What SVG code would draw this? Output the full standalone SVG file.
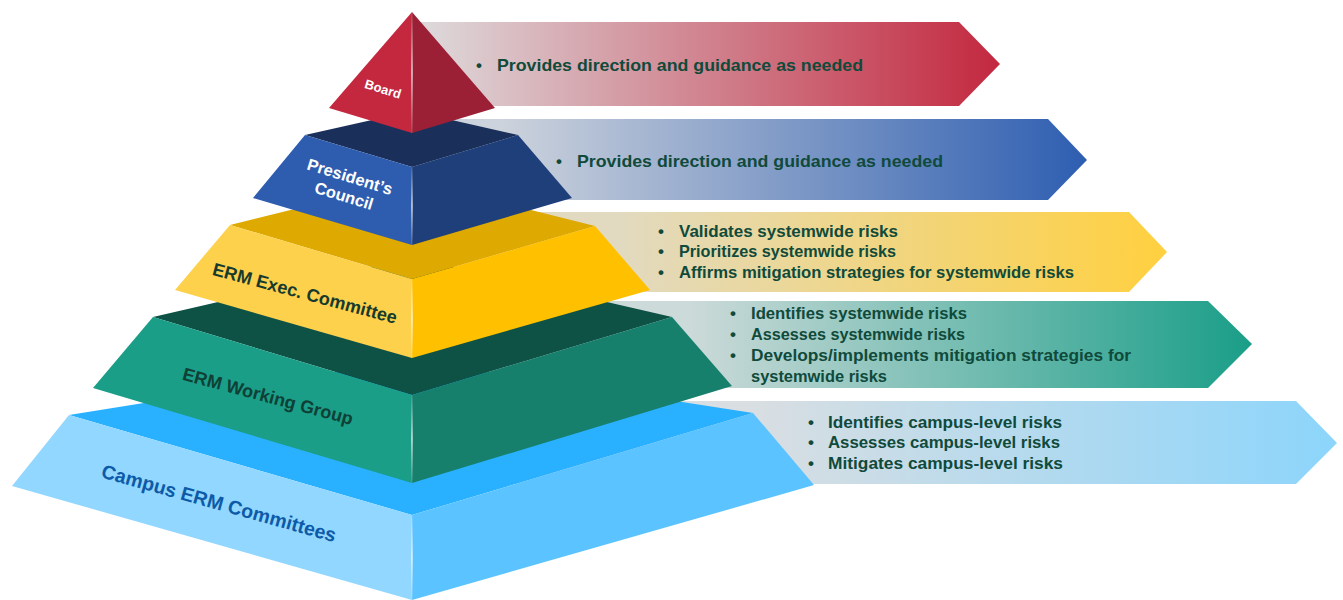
<svg xmlns="http://www.w3.org/2000/svg" width="1343" height="600" viewBox="0 0 1343 600">
<style>
.t{font-family:"Liberation Sans",Arial,sans-serif;font-weight:bold;font-size:17px;fill:#0F4A3B}
.lbl{font-family:"Liberation Sans",Arial,sans-serif;font-weight:bold;text-anchor:middle}
</style>
<defs>
<linearGradient id="gRed" gradientUnits="userSpaceOnUse" x1="430" y1="0" x2="1000" y2="0"><stop offset="0" stop-color="#DDD7D9"/><stop offset="1" stop-color="#C3283F"/></linearGradient>
<linearGradient id="gBlue" gradientUnits="userSpaceOnUse" x1="500" y1="0" x2="1087" y2="0"><stop offset="0" stop-color="#CDD3DC"/><stop offset="1" stop-color="#2E5EB1"/></linearGradient>
<linearGradient id="gYel" gradientUnits="userSpaceOnUse" x1="620" y1="0" x2="1167" y2="0"><stop offset="0" stop-color="#E2DAC0"/><stop offset="1" stop-color="#FFD03F"/></linearGradient>
<linearGradient id="gTeal" gradientUnits="userSpaceOnUse" x1="690" y1="0" x2="1252" y2="0"><stop offset="0" stop-color="#CCDAD9"/><stop offset="1" stop-color="#1A9E88"/></linearGradient>
<linearGradient id="gSky" gradientUnits="userSpaceOnUse" x1="760" y1="0" x2="1337" y2="0"><stop offset="0" stop-color="#D8DEE2"/><stop offset="1" stop-color="#8CD5FB"/></linearGradient>
<linearGradient id="hl" x1="0" y1="0" x2="0" y2="1"><stop offset="0" stop-color="#fff" stop-opacity="0.1"/><stop offset="0.5" stop-color="#fff" stop-opacity="0.85"/><stop offset="1" stop-color="#fff" stop-opacity="0.1"/></linearGradient>
</defs>

<g id="connectors">
<polygon points="412,22 959,22 1000,64 959,106 412,106" fill="url(#gRed)"/>
<polygon points="412,119 1048,119 1087,160 1048,200 412,200" fill="url(#gBlue)"/>
<polygon points="412,212 1129,212 1167,252 1129,292 412,292" fill="url(#gYel)"/>
<polygon points="412,301 1208,301 1252,344 1208,388 412,388" fill="url(#gTeal)"/>
<polygon points="412,401 1296,401 1337,443 1296,484 412,484" fill="url(#gSky)"/>
</g>

<g id="text-board">
<text class="t" x="476" y="71">•</text><text class="t" x="497" y="71" textLength="366" lengthAdjust="spacingAndGlyphs">Provides direction and guidance as needed</text>
</g>
<g id="text-council">
<text class="t" x="556" y="167">•</text><text class="t" x="577" y="167" textLength="366" lengthAdjust="spacingAndGlyphs">Provides direction and guidance as needed</text>
</g>
<g id="text-exec">
<text class="t" x="658" y="237">•</text><text class="t" x="679" y="237" textLength="219" lengthAdjust="spacingAndGlyphs">Validates systemwide risks</text>
<text class="t" x="658" y="257">•</text><text class="t" x="679" y="257" textLength="217" lengthAdjust="spacingAndGlyphs">Prioritizes systemwide risks</text>
<text class="t" x="658" y="278">•</text><text class="t" x="679" y="278" textLength="395" lengthAdjust="spacingAndGlyphs">Affirms mitigation strategies for systemwide risks</text>
</g>
<g id="text-working">
<text class="t" x="730" y="319">•</text><text class="t" x="751" y="319" textLength="216" lengthAdjust="spacingAndGlyphs">Identifies systemwide risks</text>
<text class="t" x="730" y="340">•</text><text class="t" x="751" y="340" textLength="214" lengthAdjust="spacingAndGlyphs">Assesses systemwide risks</text>
<text class="t" x="730" y="361">•</text><text class="t" x="751" y="361" textLength="380" lengthAdjust="spacingAndGlyphs">Develops/implements mitigation strategies for</text>
<text class="t" x="751" y="382" textLength="136" lengthAdjust="spacingAndGlyphs">systemwide risks</text>
</g>
<g id="text-campus">
<text class="t" x="808" y="428">•</text><text class="t" x="828" y="428" textLength="234" lengthAdjust="spacingAndGlyphs">Identifies campus-level risks</text>
<text class="t" x="808" y="448">•</text><text class="t" x="828" y="448" textLength="232" lengthAdjust="spacingAndGlyphs">Assesses campus-level risks</text>
<text class="t" x="808" y="469">•</text><text class="t" x="828" y="469" textLength="235" lengthAdjust="spacingAndGlyphs">Mitigates campus-level risks</text>
</g>

<g id="campus">
<polygon points="69,415 412,360 753,413 412,515" fill="#29B1FF"/>
<polygon points="69,415 412,515 412,600 12,486" fill="#92D7FF"/>
<polygon points="412,515 753,413 814,485 412,600" fill="#5BC3FF"/>
<rect x="411.3" y="515" width="1.4" height="85" fill="url(#hl)"/>
<text class="lbl" transform="translate(219,503) rotate(15.5)" y="7" font-size="19.5" fill="#0D5BA8">Campus ERM Committees</text>
</g>

<g id="working">
<polygon points="153,317 412,257 672,317 412,395" fill="#0E5246"/>
<polygon points="153,317 412,395 412,483 93,388" fill="#1A9E88"/>
<polygon points="412,395 672,317 732,386 412,483" fill="#16806D"/>
<rect x="411.3" y="395" width="1.4" height="88" fill="url(#hl)"/>
<text class="lbl" transform="translate(268,396) rotate(15)" y="6.5" font-size="18" fill="#0F4035">ERM Working Group</text>
</g>

<g id="exec">
<polygon points="230,225 412,180 595,226 412,279" fill="#DEA900"/>
<polygon points="230,225 412,279 412,358 175,290" fill="#FDD14C"/>
<polygon points="412,279 595,226 650,290 412,358" fill="#FFC000"/>
<rect x="411.3" y="279" width="1.4" height="79" fill="url(#hl)"/>
<text class="lbl" transform="translate(305,293) rotate(15)" y="6.5" font-size="18" fill="#173A2E">ERM Exec. Committee</text>
</g>

<g id="council">
<polygon points="305,135 412,111 518,135 412,167" fill="#1A305A"/>
<polygon points="305,135 412,167 412,245 253,198" fill="#2E5DB0"/>
<polygon points="412,167 518,135 572,198 412,245" fill="#1F3F7A"/>
<rect x="411.3" y="167" width="1.4" height="78" fill="url(#hl)"/>
<g transform="translate(347,186) rotate(17)" fill="#fff">
<text class="lbl" y="-4" font-size="16.5">President’s</text>
<text class="lbl" y="16" font-size="16.5">Council</text>
</g>
</g>

<g id="board">
<polygon points="412,12 329,108 412,133" fill="#C3283F"/>
<polygon points="412,12 495,108 412,133" fill="#9B2035"/>
<rect x="411.3" y="12" width="1.4" height="121" fill="url(#hl)"/>
<text class="lbl" transform="translate(383,89) rotate(17)" y="4.5" font-size="13" fill="#fff">Board</text>
</g>
</svg>
